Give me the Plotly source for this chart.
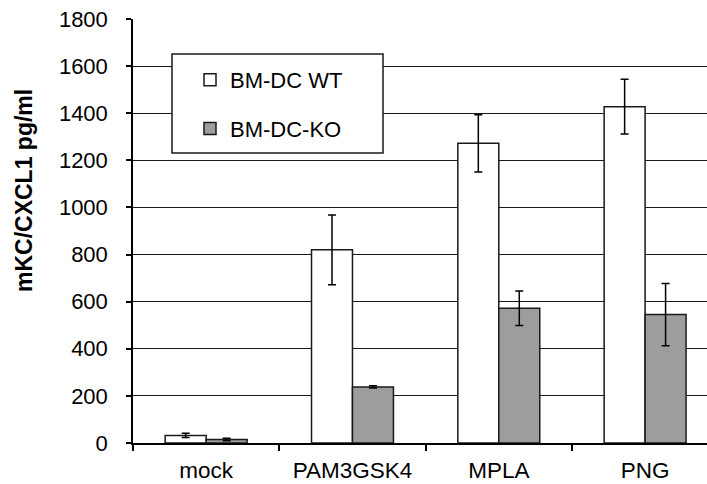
import plotly.graph_objects as go

categories = ["mock", "PAM3GSK4", "MPLA", "PNG"]
wt_values = [32, 820, 1272, 1428]
wt_errors = [9, 148, 122, 116]
ko_values = [15, 238, 572, 545]
ko_errors = [5, 5, 73, 132]
y_ticks = [0, 200, 400, 600, 800, 1000, 1200, 1400, 1600, 1800]

W, H = 707, 484
L, T, B = 133, 19, 443
pw, ph = W - L, B - T

def px(x):
    return (x - L) / pw

def py(y):
    return (B - y) / ph

FONT = "Liberation Sans, Arial, sans-serif"

fig = go.Figure()
fig.add_trace(go.Bar(
    x=categories, y=wt_values, name="BM-DC WT", legendgroup="a",
    marker=dict(color="white", line=dict(color="#1a1a1a", width=1.5)),
    error_y=dict(type="data", array=wt_errors, color="black", thickness=1.5, width=4),
))
fig.add_trace(go.Bar(
    x=categories, y=ko_values, name="BM-DC-KO", legendgroup="b",
    marker=dict(color="#9c9e9e", line=dict(color="#1a1a1a", width=1.5)),
    error_y=dict(type="data", array=ko_errors, color="black", thickness=1.5, width=4),
))

fig.add_shape(type="rect", xref="paper", yref="paper",
              x0=px(172), x1=px(383), y0=py(153), y1=py(54),
              fillcolor="white", line=dict(color="#1a1a1a", width=1.5), layer="above")

fig.add_annotation(text="<b>mKC/CXCL1 pg/ml</b>", textangle=-90,
                   xref="paper", yref="paper", x=px(9), y=py(191),
                   showarrow=False, font=dict(size=23, family=FONT, color="black"))

fig.update_layout(
    width=W, height=H,
    margin=dict(l=L, r=0, t=T, b=H - B, autoexpand=False),
    paper_bgcolor="white", plot_bgcolor="white",
    barmode="group", bargap=0.44, bargroupgap=0,
    font=dict(family=FONT, size=22, color="black"),
    showlegend=True,
    legend=dict(x=px(190), y=py(59), xanchor="left", yanchor="top",
                bgcolor="rgba(0,0,0,0)", borderwidth=0,
                font=dict(size=22, family=FONT, color="black"),
                tracegroupgap=17, traceorder="grouped"),
    xaxis=dict(range=[-0.5, 3.423], showline=True, linecolor="black", linewidth=1.5,
               ticks="outside", ticklen=6, tickcolor="black", tickwidth=1.5,
               tickson="boundaries", showgrid=False, ticklabelstandoff=6,
               tickfont=dict(size=22.5)),
    yaxis=dict(range=[0, 1800], tickvals=y_ticks, showline=True, linecolor="black",
               linewidth=1.5, ticks="outside", ticklen=5, tickcolor="black", tickwidth=1.5,
               showgrid=True, gridcolor="#1a1a1a", gridwidth=1, zeroline=False,
               ticklabelstandoff=14, tickfont=dict(size=22)),
)

fig.write_html("out.html", config={"displayModeBar": False},
               post_script="document.body.style.margin='0px';")
